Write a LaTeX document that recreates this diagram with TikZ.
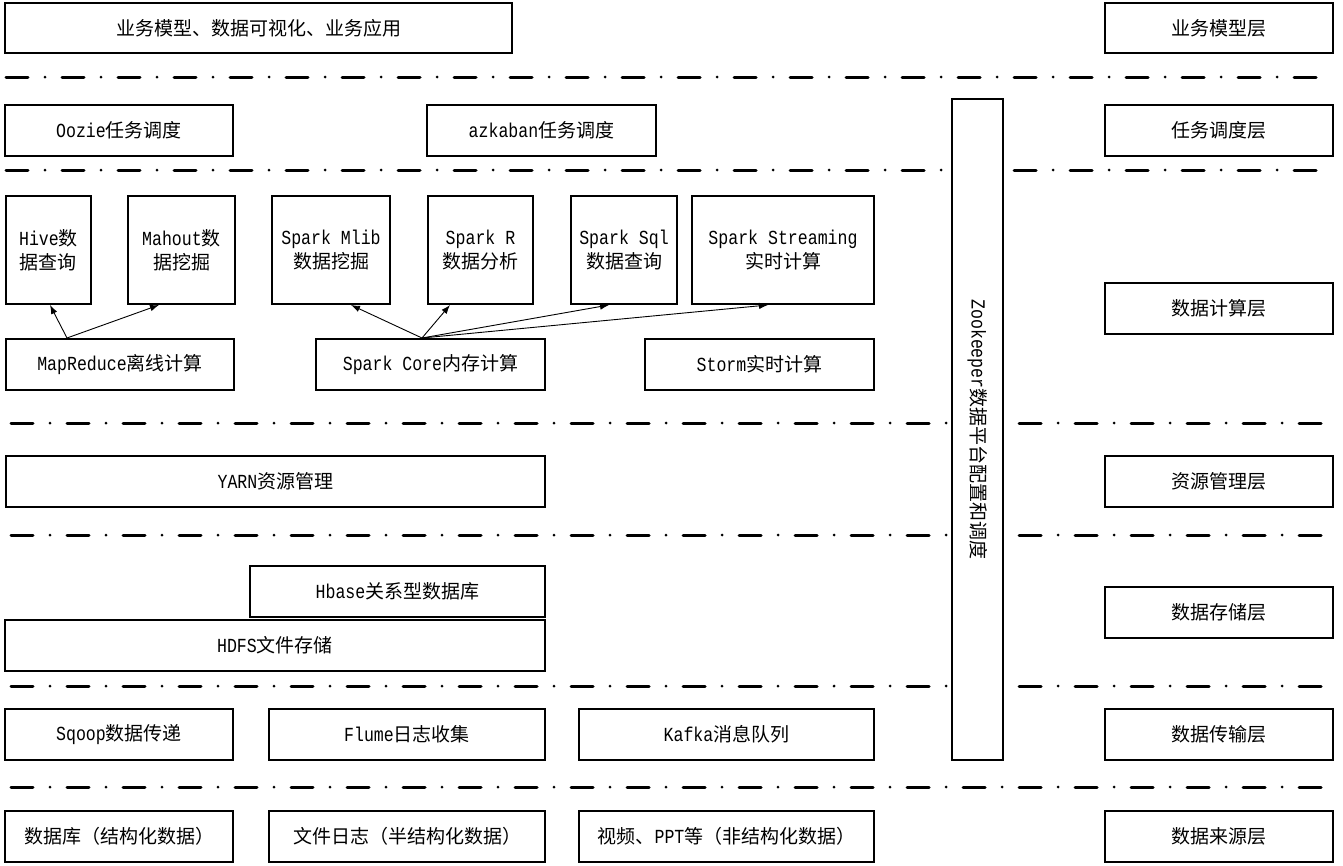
\documentclass[tikz,border=0pt]{standalone}
\usepackage{fontspec}
\setmainfont[FakeStretch=0.83,Scale=1.05]{Liberation Mono}
\newfontfamily\cjk{Noto Sans CJK SC}
\usetikzlibrary{fit,arrows.meta}
\newcommand\zh[1]{{\cjk #1}}
\tikzset{
  box/.style={draw, line width=2pt, fill=white, inner sep=0pt},
  lbl/.style={inner sep=0pt, align=center, font=\fontsize{19}{24}\selectfont},
  layerline/.style={line width=3pt, line cap=round,
    dash pattern=on 22pt off 17pt on 0pt off 17pt},
  arr/.style={line width=0.9pt, -{Latex[length=9pt,width=6.5pt]}}
}
% box with a centred label: name, corners, text
\newcommand\bx[3]{%
  \node[box, fit={#2}] (#1) {};
  \node[lbl] (#1-t) at (#1.center) {#3};}
\begin{document}
\begin{tikzpicture}[x=1pt,y=-1pt]
\useasboundingbox (0,0) rectangle (1343,865);
% layer separators
\foreach \yy/\xs in {77/6,170/6,423/11,535/11,686/11,787/11}{
  \draw[layerline] (\xs,\yy) -- (1330,\yy);
}
% top layer
\bx{app}{(5,3)(512,53)}{\zh{业务模型、数据可视化、业务应用}}
\bx{l1}{(1105,3)(1333,53)}{\zh{业务模型层}}
% scheduling
\bx{oozie}{(5,105)(233,156)}{Oozie\zh{任务调度}}
\bx{azk}{(427,105)(656,156)}{azkaban\zh{任务调度}}
\bx{l2}{(1105,105)(1333,156)}{\zh{任务调度层}}
% zookeeper
\node[box, fit={(952,99)(1003,760)}] (zk) {};
\node[lbl, rotate=-90] (zk-t) at (zk.center) {Zookeeper\zh{数据平台配置和调度}};
% computing
\bx{hive}{(6,196)(91,304)}{Hive\zh{数}\\\zh{据查询}}
\bx{mahout}{(128,196)(235,304)}{Mahout\zh{数}\\\zh{据挖掘}}
\bx{mlib}{(272,196)(390,304)}{Spark Mlib\\\zh{数据挖掘}}
\bx{sparkr}{(428,196)(533,304)}{Spark R\\\zh{数据分析}}
\bx{sql}{(571,196)(677,304)}{Spark Sql\\\zh{数据查询}}
\bx{stream}{(692,196)(874,304)}{Spark Streaming\\\zh{实时计算}}
\bx{l3}{(1105,283)(1333,334)}{\zh{数据计算层}}
\bx{mr}{(6,339)(234,390)}{MapReduce\zh{离线计算}}
\bx{core}{(316,339)(545,390)}{Spark Core\zh{内存计算}}
\bx{storm}{(645,339)(874,390)}{Storm\zh{实时计算}}
% arrows
\coordinate (mro) at ([xshift=62pt]mr.north west);
\coordinate (coreo) at ([xshift=107pt]core.north west);
\draw[arr] (mro) -- ([xshift=1.5pt]hive.south);
\draw[arr] (mro) -- ([xshift=-22.5pt]mahout.south);
\draw[arr] (coreo) -- ([xshift=20pt]mlib.south);
\draw[arr] (coreo) -- ([xshift=-30.5pt]sparkr.south);
\draw[arr] (coreo) -- ([xshift=-15pt]sql.south);
\draw[arr] (coreo) -- ([xshift=-15pt]stream.south);
% resource
\bx{yarn}{(6,456)(545,507)}{YARN\zh{资源管理}}
\bx{l4}{(1105,456)(1333,507)}{\zh{资源管理层}}
% storage
\bx{hbase}{(250,566)(545,617)}{Hbase\zh{关系型数据库}}
\bx{hdfs}{(5,620)(545,671)}{HDFS\zh{文件存储}}
\bx{l5}{(1105,587)(1333,638)}{\zh{数据存储层}}
% transport
\bx{sqoop}{(5,709)(233,760)}{Sqoop\zh{数据传递}}
\bx{flume}{(269,709)(545,760)}{Flume\zh{日志收集}}
\bx{kafka}{(579,709)(874,760)}{Kafka\zh{消息队列}}
\bx{l6}{(1105,709)(1333,760)}{\zh{数据传输层}}
% sources
\bx{db}{(5,811)(233,862)}{\zh{数据库（结构化数据）}}
\bx{logs}{(269,811)(545,862)}{\zh{文件日志（半结构化数据）}}
\bx{video}{(579,811)(874,862)}{\zh{视频、}PPT\zh{等（非结构化数据）}}
\bx{l7}{(1105,811)(1333,862)}{\zh{数据来源层}}
\end{tikzpicture}
\end{document}
